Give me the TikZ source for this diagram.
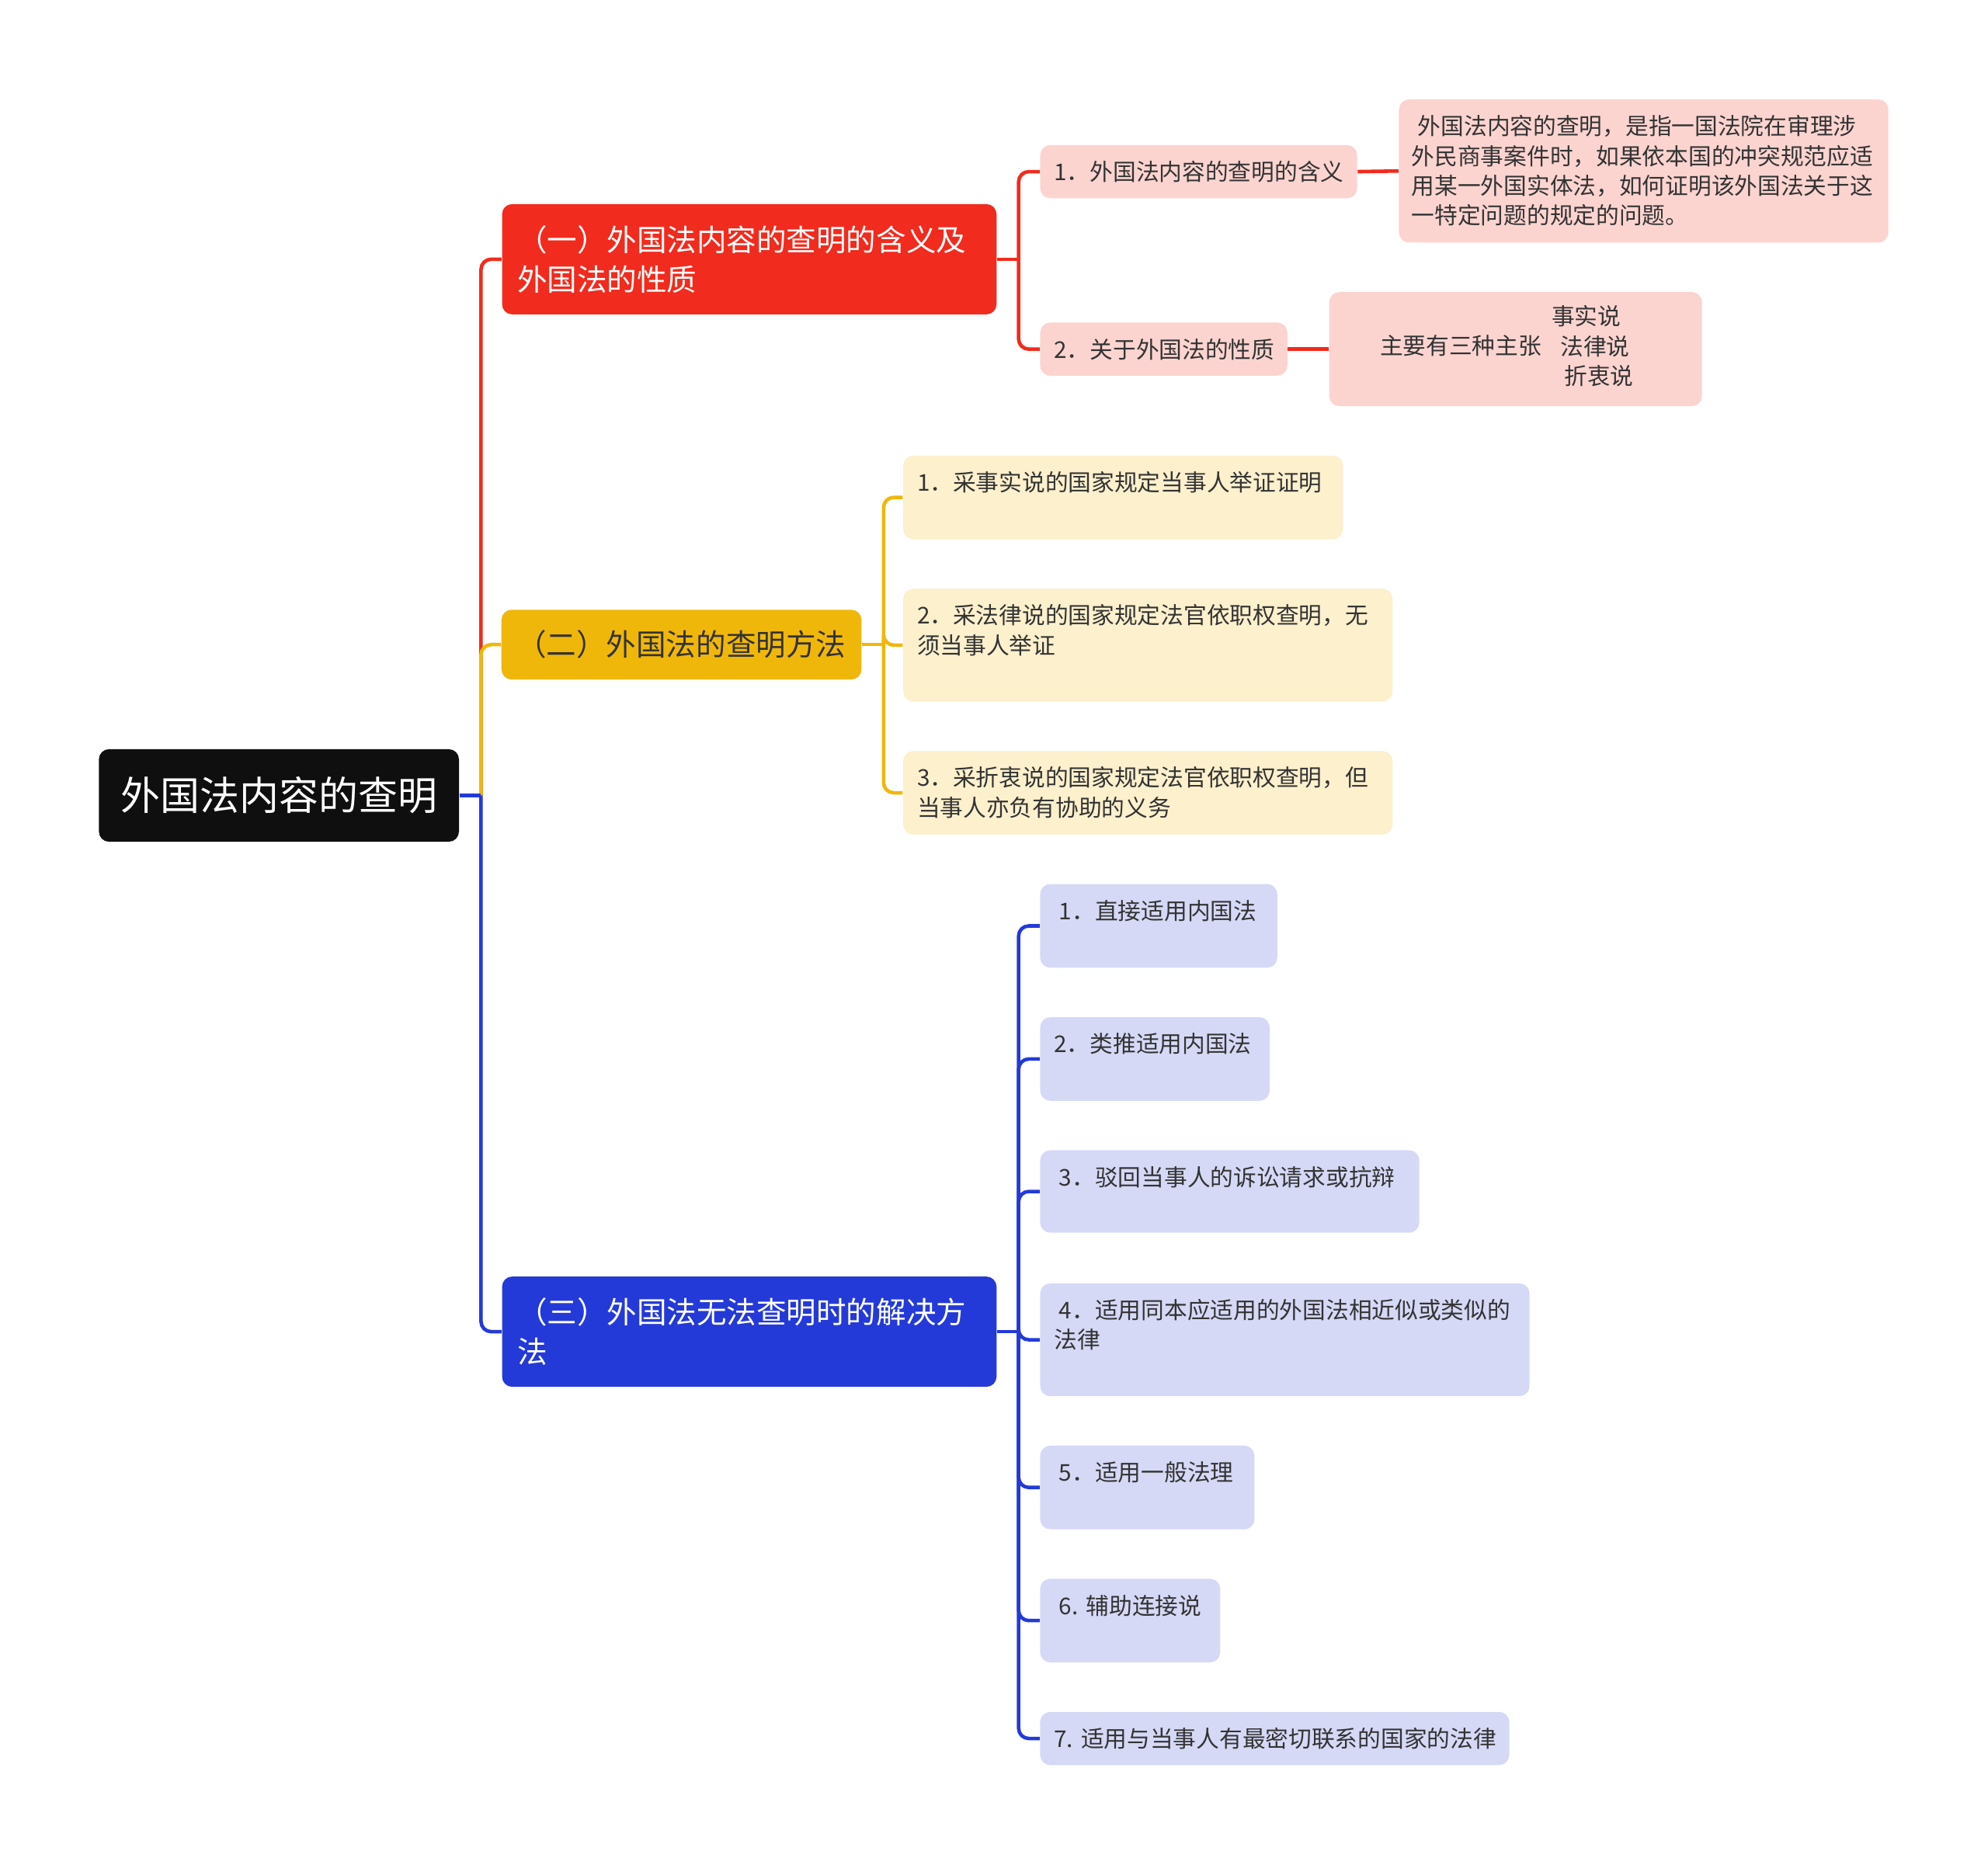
\documentclass[tikz,border=0pt]{standalone}
\usepackage{fontspec}
\setmainfont{Noto Sans CJK SC}
\definecolor{rootfill}{HTML}{0F0F0F}
\definecolor{redmain}{HTML}{F12B1D}
\definecolor{yelmain}{HTML}{F0B70B}
\definecolor{blumain}{HTML}{243AD8}
\definecolor{redsoft}{HTML}{FBD4D0}
\definecolor{yelsoft}{HTML}{FCF0CD}
\definecolor{blusoft}{HTML}{D5D9F6}
\definecolor{leaftext}{HTML}{333333}
\newcommand\rootfont{\fontsize{15.6}{19}\selectfont}
\newcommand\branchfont{\fontsize{11.8}{15.5}\selectfont}
\newcommand\leaffont{\fontsize{9.1}{11.75}\selectfont}
\tikzset{
  rootbox/.style={fill=rootfill, text=white, rounded corners=4pt, font=\rootfont,
                  minimum width=142pt, minimum height=36.5pt, inner sep=0pt},
  branch/.style={rounded corners=4pt, align=left, font=\branchfont,
                 inner xsep=6pt, inner ysep=0pt},
  leaf/.style={rounded corners=4pt, anchor=north west, font=\leaffont, text=leaftext},
  topleaf/.style={leaf, align=left, inner xsep=5.5pt, inner ysep=7pt, text height=7pt},
  redln/.style={draw=redmain, line width=1.4pt, rounded corners=4pt},
  yelln/.style={draw=yelmain, line width=1.4pt, rounded corners=4pt},
  bluln/.style={draw=blumain, line width=1.4pt, rounded corners=4pt},
}
\begin{document}
\begin{tikzpicture}[x=0.5pt, y=-0.5pt]
  \useasboundingbox (0,0) rectangle (1568,1471);

  \node[rootbox] (root) at (220,627.5) {外国法内容的查明};

  % first level
  \node[branch, fill=redmain, text=white, text width=183pt, minimum height=43.5pt] (s1) at (591,204.5)
    {（一）外国法内容的查明的含义及\\外国法的性质};
  \node[branch, fill=yelmain, text=leaftext, text width=130pt, minimum height=27.5pt] (s2) at (537.5,508.5)
    {（二）外国法的查明方法};
  \node[branch, fill=blumain, text=white, text width=183pt, minimum height=43.5pt] (s3) at (591,1050.5)
    {（三）外国法无法查明时的解决方\\法};

  % red part
  \node[topleaf, fill=redsoft, text width=114pt, text depth=0pt] (r1) at (820,114) {1．外国法内容的查明的含义};
  \node[topleaf, fill=redsoft, text width=86.5pt, text depth=0pt] (r2) at (820,254) {2．关于外国法的性质};
  \node[topleaf, fill=redsoft, text width=183pt, inner xsep=5pt, text depth=35.5pt] (r1d) at (1103,78)
    {\hspace{2.5pt}外国法内容的查明，是指一国法院在审理涉\\外民商事案件时，如果依本国的冲突规范应适\\用某一外国实体法，如何证明该外国法关于这\\一特定问题的规定的问题。};
  \node[leaf, fill=redsoft, inner sep=0pt, minimum width=147pt, minimum height=45pt] (r2d) at (1048,230)
    {\raisebox{-1pt}{主要有三种主张\hspace{7.5pt}\begin{tabular}[c]{@{}l@{}}\hspace{-3.5pt}事实说\\法律说\\\hspace{1.5pt}折衷说\end{tabular}}\hspace*{7pt}};

  % yellow part
  \node[topleaf, fill=yelsoft, text width=162.5pt, text depth=12pt] (y1) at (712,359)
    {1．采事实说的国家规定当事人举证证明};
  \node[topleaf, fill=yelsoft, text width=182pt, text depth=23.5pt] (y2) at (712,464)
    {2．采法律说的国家规定法官依职权查明，无\\须当事人举证};
  \node[topleaf, fill=yelsoft, text width=182pt, text depth=12pt] (y3) at (712,592)
    {3．采折衷说的国家规定法官依职权查明，但\\当事人亦负有协助的义务};

  % blue part
  \coordinate (j3) at ([xshift=8.5pt]s3.east);
  \draw[bluln] (s3.east) -- (j3);
  \foreach \n/\y/\w/\h/\txt in {1/697/187/66/{\hspace{2pt}1．直接适用内国法},
      2/802/181/66/{2．类推适用内国法},
      3/907/299/65/{\hspace{2pt}3．驳回当事人的诉讼请求或抗辩},
      4/1012/386/89/{\hspace{2pt}4．适用同本应适用的外国法相近似或类似的\\法律},
      5/1140/169/66/{\hspace{2pt}5．适用一般法理},
      6/1245/142/66/{\hspace{2pt}6.~辅助连接说},
      7/1350/370/42/{7.~适用与当事人有最密切联系的国家的法律}}{
    \pgfmathsetmacro\tw{\w*0.5-11}
    \pgfmathsetmacro\td{\h*0.5-21}
    \node[topleaf, fill=blusoft, text width=\tw pt, text depth=\td pt] (b\n) at (820,\y) {\txt};
    \draw[bluln] (j3) |- (b\n.west);
  }

  % connectors
  \coordinate (j0) at ([xshift=8.5pt]root.east);
  \draw[redln] (j0) |- (s1.west);
  \draw[yelln] (j0) |- (s2.west);
  \draw[bluln] (j0) |- (s3.west);
  \draw[bluln] (root.east) -- (j0);

  \coordinate (j1) at ([xshift=8.5pt]s1.east);
  \draw[redln] (s1.east) -- (j1);
  \draw[redln] (j1) |- (r1.west);
  \draw[redln] (j1) |- (r2.west);
  \draw[redln] (r1.east) -- (r1d.west);
  \draw[redln] (r2.east) -- (r2d.west);

  \coordinate (j2) at ([xshift=8.5pt]s2.east);
  \draw[yelln] (s2.east) -- (j2);
  \draw[yelln] (j2) |- (y1.west);
  \draw[yelln] (j2) |- (y2.west);
  \draw[yelln] (j2) |- (y3.west);
\end{tikzpicture}
\end{document}
